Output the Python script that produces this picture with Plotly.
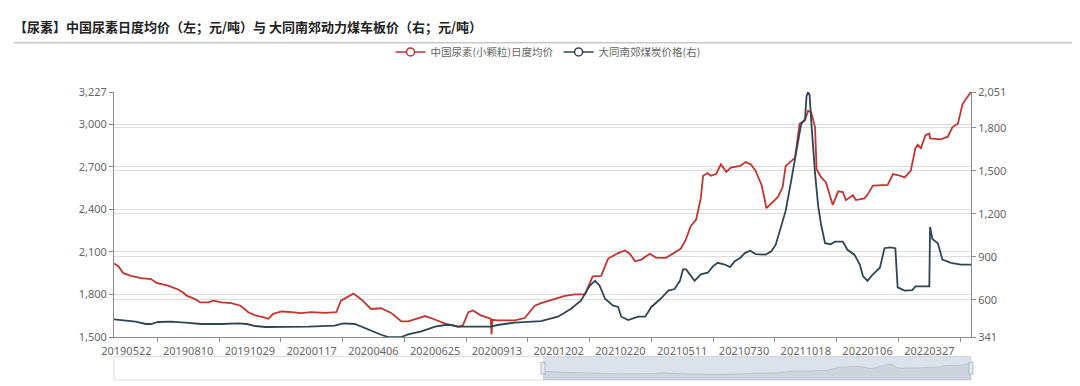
import pandas as pd
import plotly.graph_objects as go

# ---------------- data ----------------
urea_dates = [
    "2019-05-06", "2019-05-12", "2019-05-18", "2019-05-28", "2019-06-10", "2019-06-23", "2019-06-30",
    "2019-07-15", "2019-07-28", "2019-08-04", "2019-08-08", "2019-08-19", "2019-08-26", "2019-09-05",
    "2019-09-12", "2019-09-22", "2019-10-05", "2019-10-17", "2019-10-27", "2019-11-05", "2019-11-15",
    "2019-11-22", "2019-11-28", "2019-12-09", "2019-12-22", "2020-01-03", "2020-01-16", "2020-02-04",
    "2020-02-18", "2020-02-24", "2020-03-11", "2020-03-21", "2020-04-03", "2020-04-16", "2020-04-29",
    "2020-05-12", "2020-05-21", "2020-06-03", "2020-06-12", "2020-06-22", "2020-07-08", "2020-07-25",
    "2020-07-31", "2020-08-07", "2020-08-13", "2020-08-23", "2020-09-01", "2020-09-05", "2020-09-06",
    "2020-09-07", "2020-09-14", "2020-10-06", "2020-10-19", "2020-11-01", "2020-11-09", "2020-11-27",
    "2020-12-10", "2020-12-23", "2021-01-05", "2021-01-15", "2021-01-26", "2021-02-04", "2021-02-17",
    "2021-02-26", "2021-03-04", "2021-03-11", "2021-03-19", "2021-03-30", "2021-04-07", "2021-04-20",
    "2021-05-01", "2021-05-09", "2021-05-15", "2021-05-22", "2021-05-29", "2021-06-04", "2021-06-07",
    "2021-06-13", "2021-06-17", "2021-06-24", "2021-06-30", "2021-07-07", "2021-07-13", "2021-07-25",
    "2021-08-01", "2021-08-08", "2021-08-14", "2021-08-22", "2021-08-28", "2021-09-03", "2021-09-12",
    "2021-09-18", "2021-09-22", "2021-10-04", "2021-10-10", "2021-10-17", "2021-10-21", "2021-10-25",
    "2021-10-30", "2021-11-01", "2021-11-07", "2021-11-13", "2021-11-18", "2021-11-22", "2021-11-29",
    "2021-12-05", "2021-12-09", "2021-12-18", "2021-12-22", "2022-01-02", "2022-01-06", "2022-01-13",
    "2022-02-01", "2022-02-08", "2022-02-14", "2022-02-23", "2022-03-03", "2022-03-09", "2022-03-12",
    "2022-03-16", "2022-03-22", "2022-03-27", "2022-03-28", "2022-04-11", "2022-04-20", "2022-04-26",
    "2022-05-03", "2022-05-09", "2022-05-13", "2022-05-20",
]
urea_vals = [
    2019, 1997, 1950, 1931, 1915, 1909, 1881,
    1863, 1835, 1812, 1792, 1767, 1744, 1744,
    1756, 1744, 1739, 1721, 1675, 1653, 1641,
    1629, 1664, 1680, 1675, 1668, 1675, 1670,
    1675, 1756, 1806, 1767, 1698, 1703, 1670,
    1611, 1611, 1636, 1648, 1629, 1595, 1572,
    1584, 1675, 1687, 1653, 1636, 1629, 1519,
    1622, 1618, 1618, 1634, 1721, 1739, 1767,
    1790, 1801, 1801, 1927, 1931, 2053, 2092,
    2110, 2087, 2034, 2046, 2087, 2060, 2058,
    2092, 2122, 2179, 2282, 2328, 2477, 2637,
    2656, 2637, 2649, 2717, 2664, 2694, 2706,
    2733, 2717, 2671, 2568, 2408, 2442, 2488,
    2557, 2706, 2763, 3003, 3027, 3095, 3084,
    2980, 2683, 2625, 2591, 2500, 2431, 2527,
    2522, 2465, 2500, 2465, 2477, 2504, 2568,
    2573, 2649, 2642, 2625, 2671, 2831, 2855,
    2831, 2923, 2934, 2900, 2893, 2912, 2980,
    3003, 3140, 3175, 3227,
]

coal_dates = [
    "2019-05-06", "2019-05-18", "2019-06-03", "2019-06-16", "2019-06-23", "2019-07-02", "2019-07-19",
    "2019-08-06", "2019-08-27", "2019-09-22", "2019-10-14", "2019-10-25", "2019-11-05", "2019-11-18",
    "2019-12-22", "2020-01-13", "2020-02-16", "2020-02-27", "2020-03-13", "2020-03-26", "2020-04-03",
    "2020-04-16", "2020-04-25", "2020-05-12", "2020-05-21", "2020-06-07", "2020-06-25", "2020-07-08",
    "2020-07-16", "2020-07-25", "2020-09-05", "2020-09-14", "2020-10-06", "2020-11-09", "2020-12-01",
    "2020-12-18", "2020-12-31", "2021-01-11", "2021-01-18", "2021-01-24", "2021-01-31", "2021-02-10",
    "2021-02-17", "2021-02-21", "2021-03-02", "2021-03-15", "2021-03-24", "2021-04-01", "2021-04-13",
    "2021-04-23", "2021-05-01", "2021-05-08", "2021-05-12", "2021-05-16", "2021-05-27", "2021-06-04",
    "2021-06-13", "2021-06-20", "2021-06-26", "2021-07-05", "2021-07-12", "2021-07-18", "2021-07-25",
    "2021-07-31", "2021-08-07", "2021-08-14", "2021-08-27", "2021-09-03", "2021-09-09", "2021-09-16",
    "2021-09-22", "2021-09-29", "2021-10-05", "2021-10-12", "2021-10-17", "2021-10-19", "2021-10-21",
    "2021-10-23", "2021-10-25", "2021-10-27", "2021-10-30", "2021-11-03", "2021-11-07", "2021-11-12",
    "2021-11-19", "2021-11-25", "2021-12-05", "2021-12-11", "2021-12-20", "2021-12-27", "2021-12-31",
    "2022-01-06", "2022-01-13", "2022-01-22", "2022-01-28", "2022-02-04", "2022-02-11", "2022-02-14",
    "2022-02-23", "2022-03-05", "2022-03-09", "2022-03-27", "2022-03-28", "2022-03-31", "2022-04-07",
    "2022-04-13", "2022-04-24", "2022-05-07", "2022-05-20",
]
coal_vals = [
    464, 459, 448, 432, 432, 446, 448,
    442, 432, 432, 437, 432, 418, 411,
    411, 414, 421, 437, 432, 403, 384,
    357, 341, 341, 360, 380, 414, 425,
    425, 414, 414, 425, 442, 452, 483,
    539, 596, 699, 733, 699, 608, 562,
    551, 483, 459, 483, 483, 551, 608,
    665, 676, 733, 813, 813, 733, 779,
    790, 836, 859, 847, 829, 870, 893,
    927, 943, 920, 916, 938, 984, 1121,
    1223, 1429, 1622, 1827, 1862, 2021, 2051,
    2029, 1851, 1702, 1485, 1258, 1121, 996,
    989, 1007, 1007, 950, 916, 847, 767,
    733, 779, 825, 961, 966, 961, 688,
    665, 669, 695, 695, 1109, 1025, 996,
    881, 859, 847, 847,
]

x_tick_labels = ["20190522", "20190810", "20191029", "20200117", "20200406", "20200625", "20200913",
                 "20201202", "20210220", "20210511", "20210730", "20211018", "20220106", "20220327"]
left_ticks = [1500, 1800, 2100, 2400, 2700, 3000, 3227]
right_ticks = [341, 600, 900, 1200, 1500, 1800, 2051]

name_urea = "中国尿素(小颗粒)日度均价"
name_coal = "大同南郊煤炭价格(右)"
title_text = "【尿素】中国尿素日度均价（左；元/吨）与 大同南郊动力煤车板价（右；元/吨）"

RED = "#c23531"
DARK = "#2f4554"
GRID = "#dcdcdc"
AXIS = "#8c8c8c"
TXT = "#666666"

# ---------------- figure ----------------
W, H = 1080, 386
ML, MR, MT, MB = 106, 117, 84, 7
plot_h = H - MT - MB            # 295 px : main plot + slider
plot_w = W - ML - MR            # 857 px


def py(pix):                     # pixel y -> paper y
    return (H - MB - pix) / plot_h


def px(pix):                     # pixel x -> paper x
    return (pix - ML) / plot_w


x0 = pd.Timestamp(urea_dates[0])
x1 = pd.Timestamp(urea_dates[-1])
tick_dates = [pd.to_datetime(t, format="%Y%m%d") for t in x_tick_labels]
minor_dates = [d + pd.Timedelta(days=40) for d in tick_dates]

fig = go.Figure()

fig.add_trace(go.Scatter(x=urea_dates, y=urea_vals, mode="lines", name=name_urea,
                         line=dict(color=RED, width=1.8), showlegend=False, yaxis="y"))
fig.add_trace(go.Scatter(x=coal_dates, y=coal_vals, mode="lines", name=name_coal,
                         line=dict(color=DARK, width=1.8), showlegend=False, yaxis="y2"))

# legend entries (line + hollow circle icon like the original)
for nm, col in [(name_urea, RED), (name_coal, DARK)]:
    fig.add_trace(go.Scatter(x=[None], y=[None], mode="lines+markers", name=nm,
                             line=dict(color=col, width=1.5),
                             marker=dict(symbol="circle", size=8, color="white",
                                         line=dict(color=col, width=1.5)),
                             yaxis="y"))

# data shadow inside the zoom slider
sel_left = px(535)
span = x1 - x0
slider_start = x0 - span * (sel_left / (1 - sel_left))
fig.add_trace(go.Scatter(x=urea_dates, y=urea_vals, mode="lines", fill="tozeroy",
                         line=dict(color="rgba(47,69,84,0.35)", width=0.6),
                         fillcolor="rgba(47,69,84,0.12)", showlegend=False,
                         hoverinfo="skip", xaxis="x2", yaxis="y3"))

main_bottom = py(335)

fig.update_layout(
    width=W, height=H,
    margin=dict(l=ML, r=MR, t=MT, b=MB),
    paper_bgcolor="white", plot_bgcolor="white",
    font=dict(family="Noto Sans, Noto Sans CJK SC, sans-serif", size=11, color=TXT),
    title=dict(text="<b>" + title_text + "</b>", x=6 / W, xanchor="left",
               y=1 - 19 / H, yanchor="middle", yref="container",
               pad=dict(l=0, r=0, t=0, b=0),
               font=dict(family="Noto Sans CJK SC", size=13, color="#222222")),
    legend=dict(orientation="h", x=px(540), xanchor="center", y=py(43), yanchor="middle",
                font=dict(size=10.5, color=TXT, family="Noto Sans CJK SC"),
                bgcolor="rgba(0,0,0,0)", itemwidth=30, tracegroupgap=0),
    xaxis=dict(type="date", range=[x0, x1], domain=[0, 1], anchor="y",
               tickmode="array", tickvals=tick_dates, ticktext=x_tick_labels,
               ticks="outside", ticklen=4, tickcolor="rgba(0,0,0,0)",
               showgrid=False, showline=True, linecolor=AXIS, linewidth=1,
               tickfont=dict(size=11, color=TXT),
               minor=dict(tickmode="array", tickvals=minor_dates, ticks="outside",
                          ticklen=4, tickwidth=1, tickcolor=AXIS, showgrid=False)),
    yaxis=dict(domain=[main_bottom, 1], range=[left_ticks[0], left_ticks[-1]],
               tickmode="array", tickvals=left_ticks, tickformat=",",
               ticks="outside", ticklen=4, tickcolor=AXIS,
               showline=True, linecolor=AXIS, linewidth=1,
               showgrid=True, gridcolor=GRID, gridwidth=1, zeroline=False,
               tickfont=dict(size=11, color=TXT)),
    yaxis2=dict(overlaying="y", side="right", anchor="x",
                range=[right_ticks[0], right_ticks[-1]],
                tickmode="array", tickvals=right_ticks, tickformat=",",
                ticks="outside", ticklen=4, tickcolor=AXIS,
                showline=True, linecolor=AXIS, linewidth=1,
                showgrid=True, gridcolor=GRID, gridwidth=1, zeroline=False,
                tickfont=dict(size=11, color=TXT)),
    xaxis2=dict(type="date", domain=[0, 1], anchor="y3", range=[slider_start, x1],
                visible=False),
    yaxis3=dict(domain=[0, py(355)], anchor="x2", range=[735, 4197], visible=False),
    shapes=[
        # rule under the title
        dict(type="line", xref="paper", yref="paper", x0=px(6), x1=px(1080),
             y0=py(33.5), y1=py(33.5), line=dict(color="#c8c8c8", width=1.5)),
        # slider frame
        dict(type="rect", xref="paper", yref="paper", x0=0, x1=1, y0=0, y1=py(355),
             line=dict(color="#dcdcdc", width=1), fillcolor="rgba(0,0,0,0)", layer="below"),
        # slider selected range
        dict(type="rect", xref="paper", yref="paper", x0=sel_left, x1=1, y0=0, y1=py(355),
             line=dict(width=0), fillcolor="rgba(167,183,204,0.40)", layer="above"),
        # handles
        dict(type="rect", xref="paper", yref="paper", x0=px(533), x1=px(537),
             y0=py(373), y1=py(361), line=dict(color="#a7b7cc", width=1),
             fillcolor="#e6ecf3", layer="above"),
        dict(type="rect", xref="paper", yref="paper", x0=px(961), x1=px(965),
             y0=py(373), y1=py(361), line=dict(color="#a7b7cc", width=1),
             fillcolor="#e6ecf3", layer="above"),
    ],
    hovermode="x",
)

fig.write_html("out.html")
